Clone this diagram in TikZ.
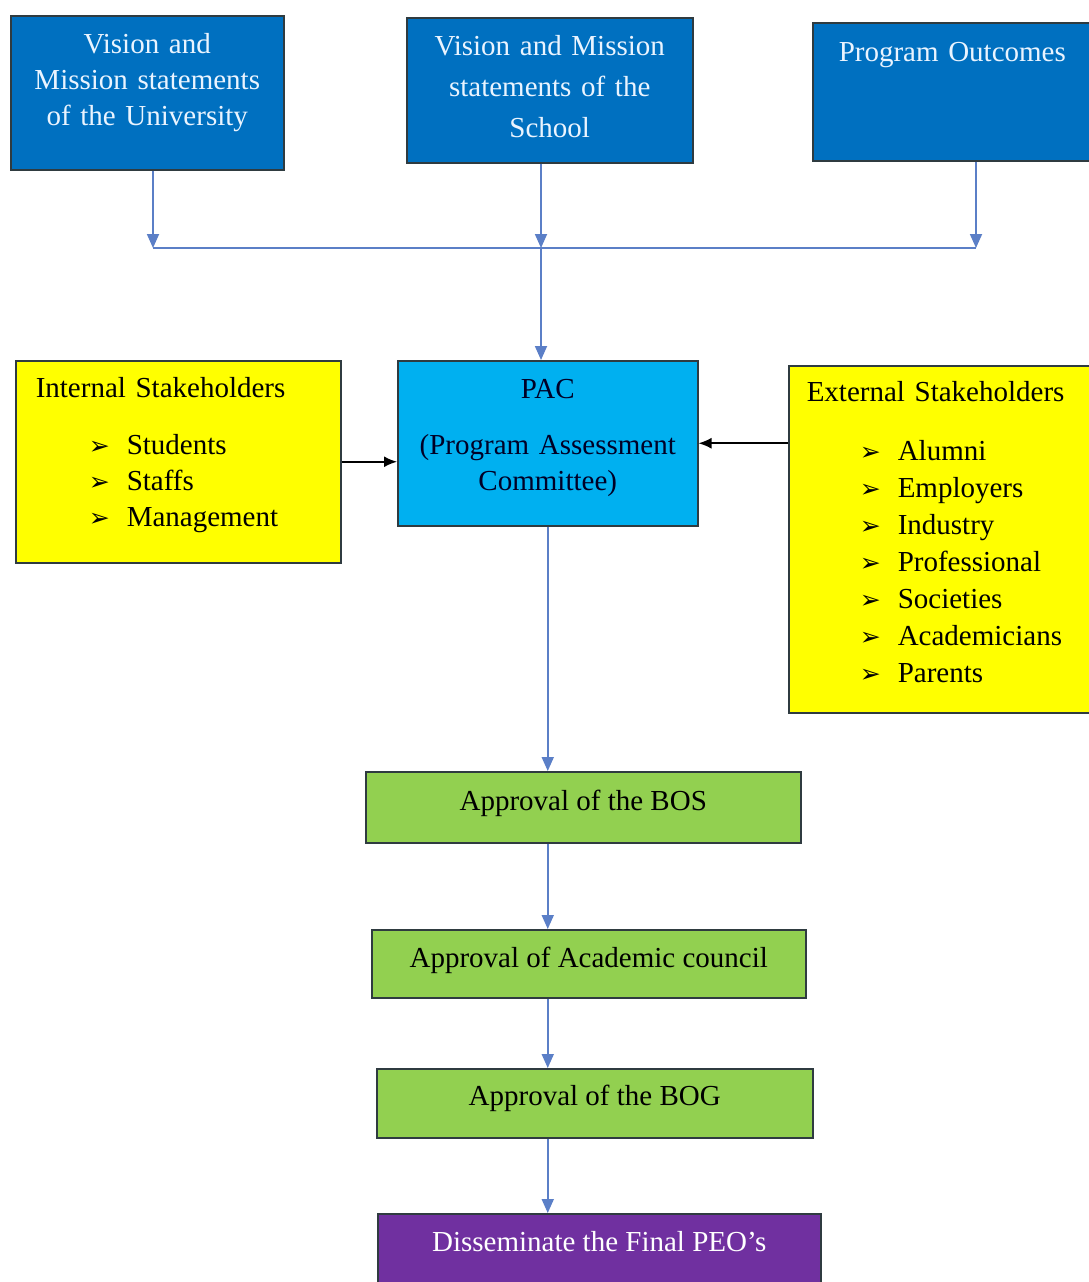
\documentclass[tikz,border=0pt]{standalone}
\usepackage{fontspec}
\setmainfont{Liberation Serif}
\newfontfamily\symfont{DejaVu Sans}
\usepackage{tikz}
\usetikzlibrary{arrows.meta,positioning}
\definecolor{deepblue}{HTML}{0070C0}
\definecolor{paleblue}{HTML}{EAF4FF}
\definecolor{cyanbox}{HTML}{00B0F0}
\definecolor{stakeyellow}{HTML}{FFFF00}
\definecolor{leaf}{HTML}{92D050}
\definecolor{plum}{HTML}{7030A0}
\definecolor{edge}{HTML}{2F3B40}
\definecolor{flowblue}{HTML}{5B7FC7}
\newcommand{\stakeitem}{\hspace*{53pt}\makebox[38pt][l]{\symfont\fontsize{25}{25}\selectfont ➢}}

\begin{document}
\begin{tikzpicture}[x=1pt,y=-1pt,
  every node/.style={font=\fontsize{29}{36}\selectfont,inner sep=0pt,anchor=north west},
  topbox/.style={draw=edge,fill=deepblue,text=paleblue,line width=1.5pt,align=center},
  stakebox/.style={draw=edge,fill=stakeyellow,line width=1.5pt,align=left},
  approvebox/.style={draw=edge,fill=leaf,line width=1.5pt},
  flow/.style={draw=flowblue,line width=1.8pt},
  flowarrow/.style={flow,-{Triangle[length=14pt,width=12pt]}},
  feed/.style={draw=black,line width=1.8pt,-{Latex[length=13pt,width=11pt]}}]
\path[use as bounding box,fill=white] (0,0) rectangle (1089,1282);
\clip (0,0) rectangle (1089,1282);
% sources
\node[topbox,text width=273pt,text height=38pt,text depth=116pt] (univ) at (10,15) {Vision and\\Mission statements\\of the University};
\node[topbox,text width=286pt,text height=38pt,text depth=107pt] (school) at (406,17) {Vision and Mission\\[5pt]statements of the\\[5pt]School};
\node[topbox,align=left,text width=270pt,inner xsep=26pt,text height=39pt,text depth=99pt] (outcomes) at (812,22) {Program Outcomes};
% committee and stakeholders
\node[draw=edge,fill=cyanbox,text=black!85!blue,line width=1.5pt,align=center,text width=300pt,text height=38pt,text depth=127pt] (pac) at (397,360) {PAC\\[20pt](Program Assessment\\Committee)};
\node[stakebox,text width=285pt,inner xsep=20pt,text height=37pt,text depth=165pt] (internal) at (15,360) {Internal Stakeholders\\[21pt]\stakeitem Students\\\stakeitem Staffs\\\stakeitem Management};
\node[stakebox,text width=290pt,inner xsep=18pt,text height=36pt,text depth=311pt,font=\fontsize{29}{37}\selectfont] (external) at (788,365) {External Stakeholders\\[22pt]\stakeitem Alumni\\\stakeitem Employers\\\stakeitem Industry\\\stakeitem Professional\\\stakeitem Societies\\\stakeitem Academicians\\\stakeitem Parents};
% approvals
\node[approvebox,minimum width=435pt,text height=39pt,text depth=32pt] (bos) at (365,771) {Approval of the BOS};
\node[approvebox,minimum width=434pt,text height=38pt,text depth=30pt] (council) at (371,929) {Approval of Academic council};
\node[approvebox,minimum width=436pt,text height=37pt,text depth=32pt] (bog) at (376,1068) {Approval of the BOG};
\node[draw=edge,fill=plum,text=white,line width=1.5pt,minimum width=443pt,text height=38pt,text depth=45pt] (peo) at (377,1213) {Disseminate the Final PEO’s};
% junctions
\coordinate (j1) at (153,248);
\coordinate (j2) at (541,248);
\coordinate (j3) at (976,248);
\draw[flowarrow] (univ.south -| j1) -- (j1);
\draw[flowarrow] (school.south -| j2) -- (j2);
\draw[flowarrow] (outcomes.south -| j3) -- (j3);
\draw[flow] (j1) -- (j3);
\draw[flowarrow] (j2) -- (pac.north -| j2);
\draw[feed] (internal.east) -- (internal.east -| pac.west);
\draw[feed] (pac.east -| external.west) -- (pac.east);
\draw[flowarrow] (pac.south) -- (bos.north -| pac.south);
\draw[flowarrow] (bos.south -| pac.south) -- (council.north -| pac.south);
\draw[flowarrow] (council.south -| pac.south) -- (bog.north -| pac.south);
\draw[flowarrow] (bog.south -| pac.south) -- (peo.north -| pac.south);
\end{tikzpicture}
\end{document}
